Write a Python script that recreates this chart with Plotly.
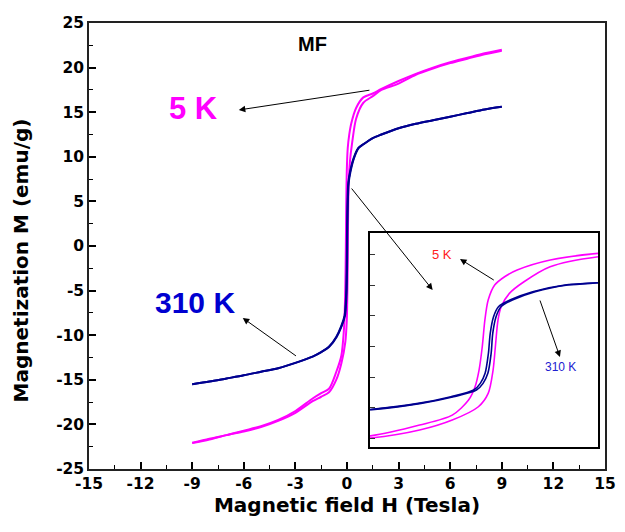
import plotly.graph_objects as go

# ---------------- data ----------------
# 5 K loop: descending branch (from +9 T) and ascending branch (from -9 T)
h_5k_down = [9, 8, 7, 6, 5, 4, 3, 2, 1.5, 0.95, 0.53, 0.24, 0.13, 0.043, -0.014, -0.043,
             -0.066, -0.094, -0.129, -0.186, -0.329, -0.615, -1.044, -1.5, -2, -3, -4,
             -5, -6, -7, -8, -9]
m_5k_down = [22.0, 21.6, 21.1, 20.6, 20.0, 19.3, 18.5, 17.6, 17.1, 16.66, 15.47, 13.68,
             12.48, 10.99, 8.3, 4.73, -0.05, -4.22, -7.2, -9.59, -12.3, -14.07, -16.0,
             -16.5, -17.1, -18.5, -19.5, -20.2, -20.7, -21.2, -21.6, -22.05]
h_5k_up = [-9, -8, -7, -6, -5, -4, -3, -2, -1.5, -1.044, -0.615, -0.329, -0.1, -0.014,
           0.029, 0.049, 0.072, 0.1, 0.172, 0.3, 0.529, 0.95, 1.5, 2, 3, 4, 5, 6, 7, 8, 9]
m_5k_up = [-22.1, -21.7, -21.2, -20.8, -20.3, -19.6, -18.7, -17.4, -16.9, -16.4, -14.96,
           -13.17, -10.79, -8.4, -4.22, -0.05, 4.73, 7.11, 9.5, 11.58, 14.27, 16.06, 16.8,
           17.5, 18.2, 19.2, 19.9, 20.5, 21.0, 21.5, 21.9]

# 310 K loop
h_310k_down = [9, 8, 7, 6, 5, 4, 3, 2, 1.5, 0.94, 0.66, 0.376, 0.176, 0.076, 0.033, 0.004,
               -0.012, -0.041, -0.083, -0.141, -0.341, -0.627, -1.056, -1.5, -2, -3, -4,
               -5, -6, -7, -8, -9]
m_310k_down = [15.6, 15.3, 14.9, 14.5, 14.1, 13.7, 13.2, 12.5, 12.1, 11.4, 10.99, 9.8,
               8.3, 7.11, 5.32, 2.35, -1.23, -4.81, -6.6, -7.8, -9.0, -10.19, -11.3,
               -11.9, -12.4, -13.1, -13.7, -14.1, -14.5, -14.85, -15.2, -15.5]
h_310k_up = [-9, -8, -7, -6, -5, -4, -3, -2, -1.5, -1.032, -0.603, -0.317, -0.117, -0.059,
             -0.017, 0.012, 0.026, 0.055, 0.098, 0.198, 0.398, 0.684, 0.96, 1.5, 2, 3, 4,
             5, 6, 7, 8, 9]
m_310k_up = [-15.5, -15.2, -14.85, -14.5, -14.1, -13.7, -13.1, -12.4, -11.9, -11.3,
             -10.19, -9.0, -7.8, -6.6, -4.81, -1.23, 2.35, 5.32, 7.11, 8.3, 9.8, 10.99,
             11.4, 12.1, 12.5, 13.2, 13.7, 14.1, 14.5, 14.9, 15.3, 15.6]

x_ticks = [-15, -12, -9, -6, -3, 0, 3, 6, 9, 12, 15]
y_ticks = [-25, -20, -15, -10, -5, 0, 5, 10, 15, 20, 25]

MAGENTA = "#FF00FF"
NAVY = "#000090"

fig = go.Figure()

for xa, ya, w in (("x", "y", 2), ("x2", "y2", 1.6)):
    for hx, my, col in ((h_5k_down, m_5k_down, MAGENTA), (h_5k_up, m_5k_up, MAGENTA),
                        (h_310k_down, m_310k_down, NAVY), (h_310k_up, m_310k_up, NAVY)):
        fig.add_trace(go.Scatter(x=hx, y=my, mode="lines",
                                 line=dict(color=col, width=w, shape="spline", smoothing=0.8),
                                 xaxis=xa, yaxis=ya, showlegend=False))

FONT = "DejaVu Sans"
tickfont = dict(family=FONT, size=15.5, color="black", weight="bold")
titlefont = dict(family=FONT, size=20, color="black", weight="bold")

fig.update_layout(
    width=625, height=532,
    margin=dict(l=89, r=9, t=23, b=63),
    paper_bgcolor="white", plot_bgcolor="white",
    xaxis=dict(range=[-15, 15], tickvals=x_ticks, ticktext=[str(v) for v in x_ticks],
               ticks="inside", ticklen=7, tickwidth=1.5, tickcolor="black",
               minor=dict(ticks="inside", ticklen=4, tickwidth=1.2, dtick=1.5,
                          tick0=0, tickcolor="black"),
               showline=True, linecolor="#222", linewidth=1.5, mirror=True,
               showgrid=False, zeroline=False, tickfont=tickfont,
               title=dict(text="Magnetic field H (Tesla)", font=titlefont, standoff=3)),
    yaxis=dict(range=[-25, 25], tickvals=y_ticks, ticktext=[str(v) for v in y_ticks],
               ticks="inside", ticklen=7, tickwidth=1.5, tickcolor="black",
               minor=dict(ticks="inside", ticklen=4, tickwidth=1.2, dtick=2.5,
                          tick0=0, tickcolor="black"),
               showline=True, linecolor="#222", linewidth=1.5, mirror=True,
               showgrid=False, zeroline=False, tickfont=tickfont),
    xaxis2=dict(domain=[0.5446, 0.9867], anchor="y2", range=[-1.05, 0.95],
                showticklabels=False, ticks="", showline=True, linecolor="black",
                linewidth=1.5, mirror=True, showgrid=False, zeroline=False),
    yaxis2=dict(domain=[0.0493, 0.529], anchor="x2", range=[-18, 20.3],
                showticklabels=False, ticks="inside", ticklen=5, tickwidth=1,
                tickcolor="#333", tickmode="linear", dtick=5.5, tick0=0,
                showline=True, linecolor="black",
                linewidth=1.5, mirror=True, showgrid=False, zeroline=False),
)

# y-axis title (placed as rotated text to match its position)
fig.add_annotation(xref="paper", yref="paper", x=-0.131, y=0.4686, xanchor="center",
                   yanchor="middle", textangle=-90, showarrow=False,
                   text="Magnetization M (emu/g)", font=titlefont)

# inset white background
fig.add_shape(type="rect", xref="x2 domain", yref="y2 domain", x0=0, x1=1, y0=0, y1=1,
              fillcolor="white", line=dict(width=0), layer="below")

arial = "Liberation Sans"
ann = [
    dict(x=-2.0, y=22.65, text="MF", font=dict(family=arial, size=20, color="black",
                                                weight="bold")),
    dict(x=-8.9, y=15.47, text="5 K", font=dict(family=arial, size=31, color=MAGENTA,
                                                 weight="bold")),
    dict(x=-8.85, y=-6.28, text="310 K", font=dict(family=arial, size=30, color="#0000D0",
                                                    weight="bold")),
    dict(x=5.55, y=-1.0, text="5 K", font=dict(family=arial, size=13, color="#FF2020")),
    dict(x=12.44, y=-13.56, text="310 K", font=dict(family=arial, size=12, color="#2020D0")),
]
for a in ann:
    fig.add_annotation(xref="x", yref="y", showarrow=False, **a)

arrows = [
    ((-6.29, 15.25), (1.39, 17.49)),
    ((-6.06, -8.07), (-2.88, -12.44)),
    ((4.98, -4.93), (0.2, 6.61)),
    ((6.57, -1.46), (8.62, -3.92)),
    ((12.38, -12.44), (11.19, -5.94)),
]
for (hx, hy), (tx, ty) in arrows:
    fig.add_annotation(x=hx, y=hy, ax=tx, ay=ty, xref="x", yref="y", axref="x", ayref="y",
                       text="", showarrow=True, arrowhead=2, arrowsize=1.3, arrowwidth=1,
                       arrowcolor="black")

fig.write_html("out.html")
